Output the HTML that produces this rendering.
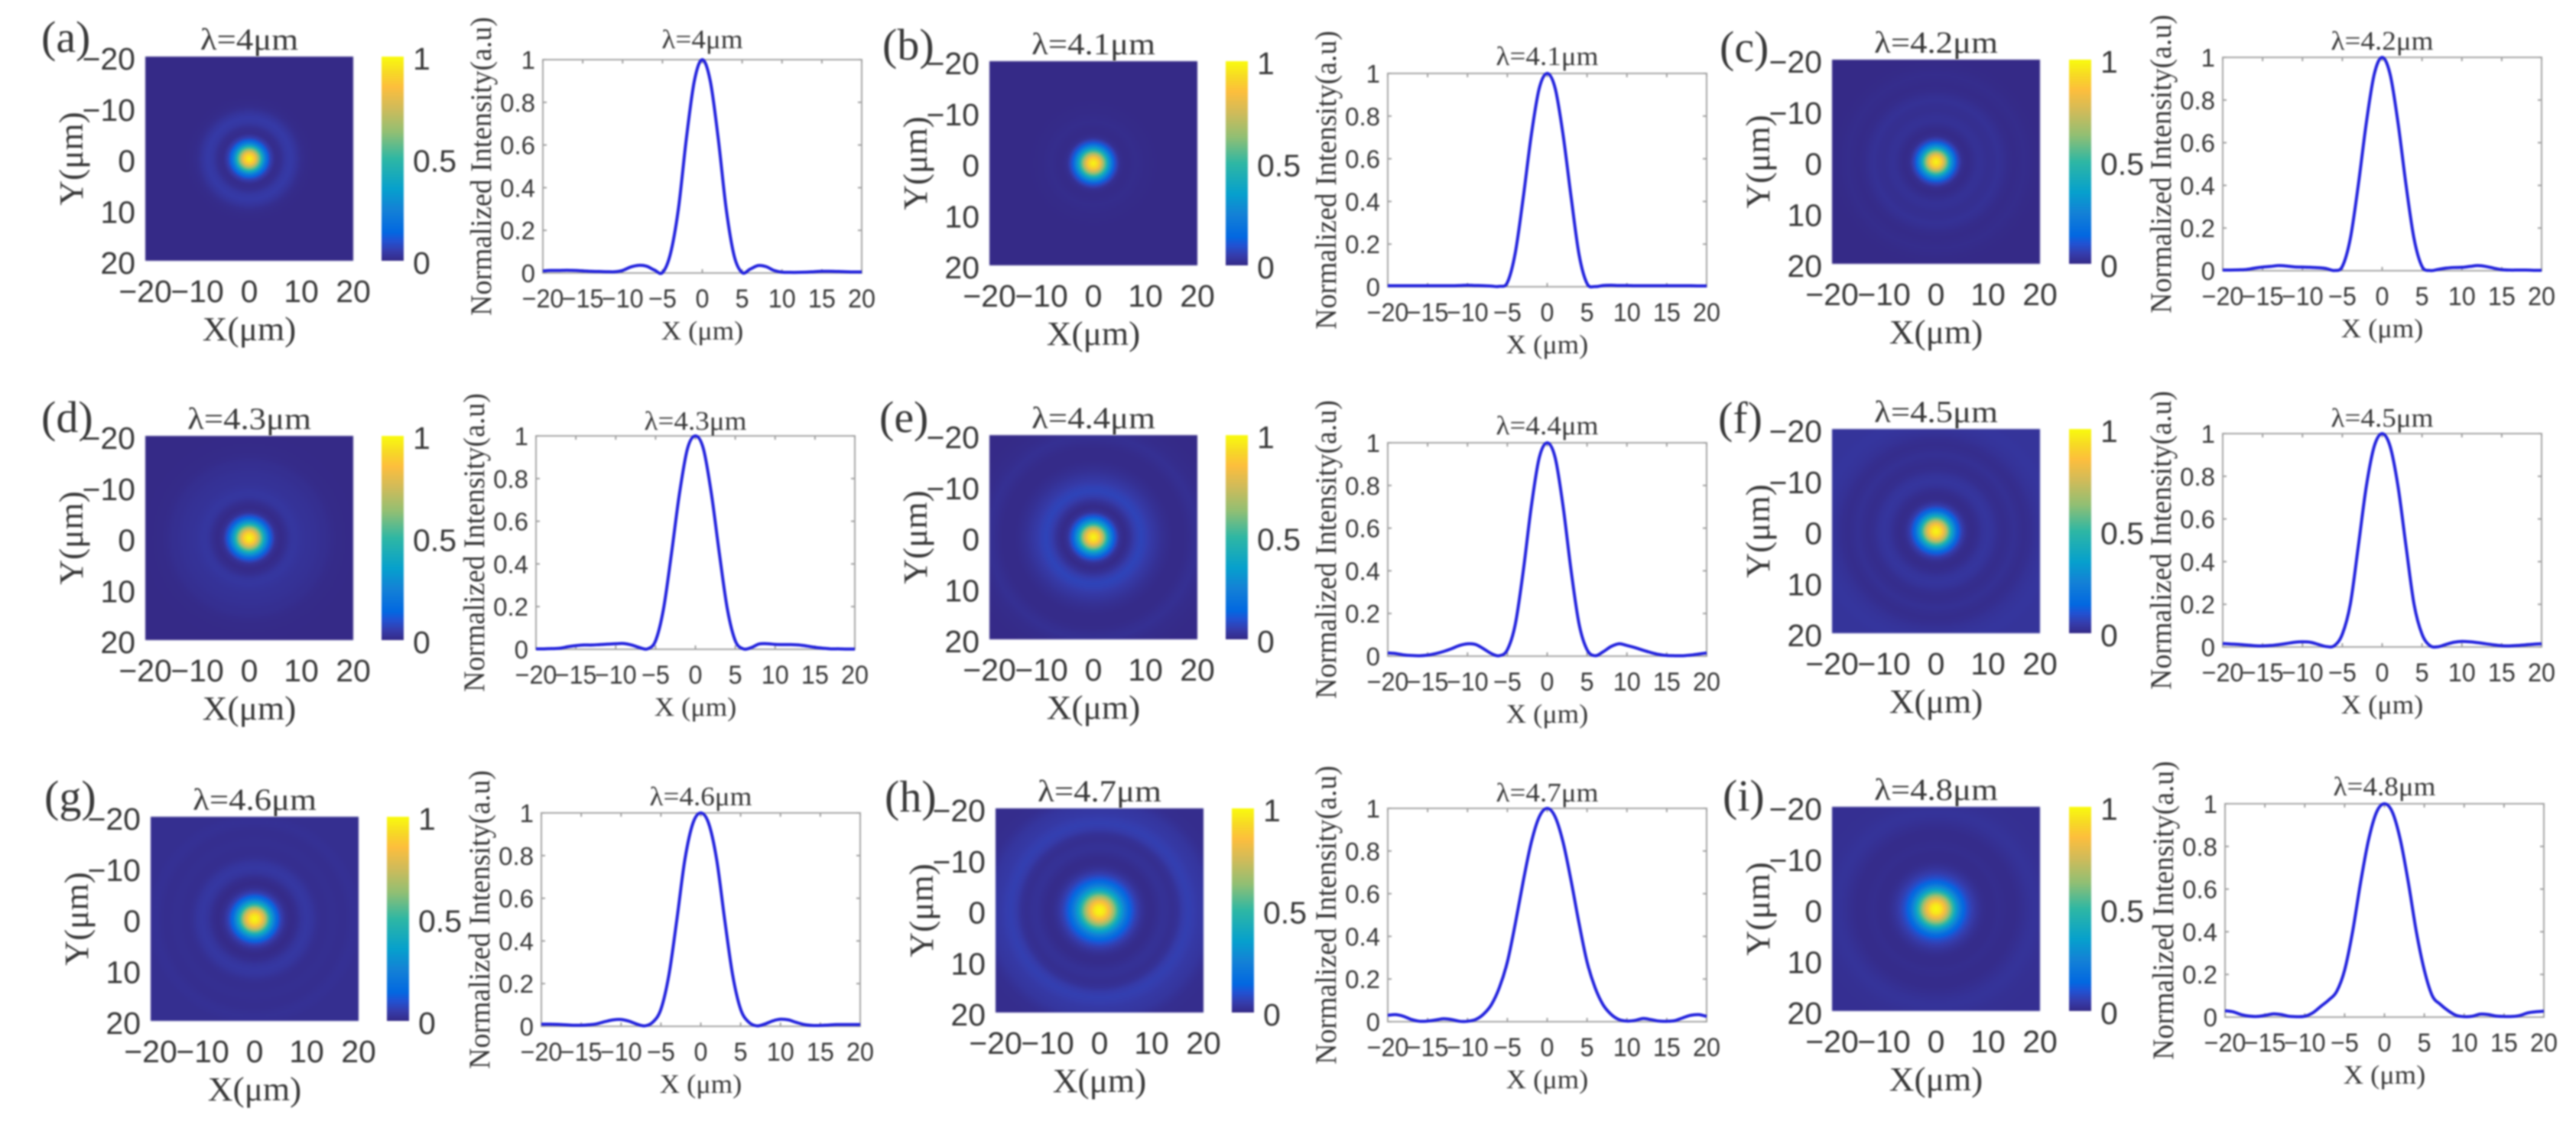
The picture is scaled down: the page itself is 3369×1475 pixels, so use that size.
<!DOCTYPE html>
<html lang="en">
<head>
<meta charset="utf-8">
<title>Beam intensity profiles</title>
<style>
html,body{margin:0;padding:0;background:#fff;}
#page{position:relative;width:3369px;height:1475px;overflow:hidden;background:#fff;}
#page canvas{position:absolute;filter:blur(1.2px);}
#overlay{position:absolute;left:0;top:0;filter:blur(1.1px);}
text{fill:#383838;}
.serif{font-family:"Liberation Serif","Noto Serif CJK SC",serif;}
.sans{font-family:"Liberation Sans","Noto Sans CJK SC",sans-serif;}
</style>
</head>
<body>
<div id="page">
<svg id="overlay" width="3369" height="1475" xmlns="http://www.w3.org/2000/svg">
<defs><linearGradient id="parulaGrad" x1="0" y1="1" x2="0" y2="0"></linearGradient></defs>
</svg>
</div>
<script>
// ---- data ----
const wavelengths = ['4','4.1','4.2','4.3','4.4','4.5','4.6','4.7','4.8'];
const panelLetters = ['(a)','(b)','(c)','(d)','(e)','(f)','(g)','(h)','(i)'];
const xPositions = [-20,-19,-18,-17,-16,-15,-14,-13,-12,-11,-10,-9,-8,-7,-6,-5,-4,-3,-2,-1,0,1,2,3,4,5,6,7,8,9,10,11,12,13,14,15,16,17,18,19,20];
const heatTicks = [-20,-10,0,10,20];
const colorbarTicks = [0,0.5,1];
const lineXTicks = [-20,-15,-10,-5,0,5,10,15,20];
const lineYTicks = [0,0.2,0.4,0.6,0.8,1];

const profileA = [.01,.012,.012,.013,.012,.01,.008,.007,.006,.006,.012,.028,.036,.032,.014,.002,.09,.3,.63,.9,1,.9,.63,.3,.08,.002,.018,.035,.03,.012,.004,.003,.003,.004,.006,.008,.008,.007,.006,.005,.005];
const profileB = [.005,.005,.005,.005,.005,.005,.005,.005,.005,.006,.007,.006,.005,.003,.002,.02,.16,.42,.71,.93,1,.93,.71,.42,.15,.015,.001,.006,.007,.006,.006,.005,.005,.005,.005,.005,.005,.005,.005,.004,.004];
const profileC = [.003,.003,.004,.006,.012,.017,.02,.024,.022,.018,.017,.016,.014,.01,.001,.02,.15,.4,.69,.92,1,.92,.69,.4,.15,.02,.001,.006,.012,.015,.016,.02,.024,.02,.012,.005,.003,.003,.003,.002,.002];
const profileD = [.002,.002,.003,.005,.012,.017,.02,.02,.022,.024,.026,.027,.02,.008,.002,.04,.19,.45,.73,.94,1,.94,.73,.45,.19,.04,.002,.008,.025,.026,.023,.022,.022,.02,.015,.009,.005,.002,.002,.001,.001];
const profileE = [.015,.012,.006,.003,.002,.005,.012,.022,.035,.05,.058,.055,.035,.012,.002,.03,.15,.4,.7,.93,1,.93,.7,.4,.15,.03,.002,.02,.045,.058,.05,.04,.028,.017,.008,.003,.002,.002,.005,.01,.015];
const profileF = [.016,.014,.012,.009,.006,.005,.007,.011,.016,.022,.024,.022,.012,.002,.006,.06,.2,.47,.75,.94,1,.94,.75,.47,.2,.06,.006,.001,.012,.022,.026,.024,.02,.015,.01,.006,.005,.007,.01,.013,.015];
const profileG = [.01,.01,.009,.007,.005,.005,.007,.012,.022,.03,.032,.024,.01,.002,.02,.08,.24,.5,.78,.95,1,.95,.78,.5,.24,.08,.02,.002,.01,.025,.033,.03,.018,.008,.004,.004,.006,.008,.008,.008,.008];
const profileH = [.03,.033,.025,.01,.002,.003,.008,.014,.01,.002,.002,.01,.035,.08,.16,.28,.46,.66,.84,.96,1,.96,.84,.66,.46,.28,.16,.08,.035,.01,.003,.006,.015,.01,.003,.002,.005,.018,.03,.033,.025];
const profileI = [.03,.025,.012,.005,.003,.008,.015,.012,.004,.002,.004,.02,.05,.08,.12,.22,.4,.63,.83,.96,1,.96,.83,.63,.4,.22,.1,.06,.03,.008,.002,.004,.014,.012,.005,.003,.003,.008,.02,.025,.028];
const lineProfiles = [profileA,profileB,profileC,profileD,profileE,profileF,profileG,profileH,profileI];

// radial intensity of each beam map, sampled at r = 0,1,2,...,28 um
const radialA = [1,.88,.58,.24,.06,.006,.012,.035,.042,.028,.01,.003,.001,0,0,0,0,0,0,0,0,0,0,0,0,0,0,0,0];
const radialB = [1,.9,.64,.34,.11,.015,.002,.004,.008,.006,.003,.002,.001,0,0,0,0,0,0,0,0,0,0,0,0,0,0,0,0];
const radialC = [1,.9,.62,.3,.09,.012,.002,.01,.02,.018,.012,.014,.02,.014,.006,.003,.005,.008,.005,.002,.001,0,0,0,0,0,0,0,0];
const radialD = [1,.91,.66,.36,.13,.02,.002,.012,.03,.032,.026,.022,.02,.018,.014,.012,.006,.003,.002,.001,.001,0,0,0,0,0,0,0,0];
const radialE = [1,.91,.66,.34,.12,.02,.002,.02,.05,.066,.058,.042,.03,.018,.01,.004,.002,.002,.006,.012,.016,.01,.006,.004,.002,.001,.001,0,0];
const radialF = [1,.92,.7,.4,.16,.05,.01,.004,.012,.025,.03,.024,.012,.008,.012,.018,.012,.008,.012,.02,.025,.028,.03,.028,.025,.025,.025,.025,.025];
const radialG = [1,.93,.72,.42,.19,.06,.015,.002,.01,.028,.036,.03,.016,.01,.012,.014,.012,.01,.014,.018,.016,.012,.012,.012,.012,.012,.012,.012,.012];
const radialH = [1,.95,.8,.6,.38,.22,.12,.06,.025,.008,.005,.012,.02,.018,.012,.02,.045,.055,.05,.04,.035,.03,.02,.012,.01,.008,.008,.008,.008];
const radialI = [1,.95,.78,.56,.33,.17,.09,.05,.025,.01,.005,.006,.01,.008,.005,.005,.01,.016,.022,.024,.022,.018,.016,.015,.014,.014,.014,.014,.014];
const heatRadials = [radialA,radialB,radialC,radialD,radialE,radialF,radialG,radialH,radialI];

// ---- colormap ----
const cmapStops = [0,.05,.1,.14,.25,.35,.5,.63,.75,.85,.92,1];
const cmapColors = [[53,42,135],[53,61,173],[32,83,212],[2,104,225],[20,129,214],[6,160,205],[46,183,164],[146,191,115],[209,187,89],[253,190,61],[247,216,38],[249,251,14]];

// ---- layout (panel placement only) ----
const layout = [
 {lx:54,  ly:68,  hx:190, hy:74,  cx:499, px:710, py:78,  tt:15},
 {lx:1154,ly:78,  hx:1294,hy:80,  cx:1603,px:1815,py:96,  tt:11},
 {lx:2249,ly:81,  hx:2396,hy:78,  cx:2706,px:2907,py:75,  tt:10},
 {lx:54,  ly:565, hx:190, hy:570, cx:499, px:701, py:570, tt:8},
 {lx:1150,ly:565, hx:1294,hy:569, cx:1603,px:1815,py:579, tt:11},
 {lx:2247,ly:566, hx:2396,hy:561, cx:2706,px:2907,py:567, tt:9},
 {lx:58,  ly:1061,hx:197, hy:1068,cx:506, px:708, py:1063,tt:10},
 {lx:1157,ly:1061,hx:1302,hy:1057,cx:1611,px:1815,py:1057,tt:9},
 {lx:2253,ly:1060,hx:2396,hy:1055,cx:2706,px:2910,py:1051,tt:11}
];
const HW=272, HH=267, CW=29, PW=417, PH=279;

const svg = document.getElementById('overlay');
const page = document.getElementById('page');
const NS = 'http://www.w3.org/2000/svg';

function colorOf(v){
  v = Math.max(0,Math.min(1,v));
  for(let i=1;i<cmapStops.length;i++){
    if(v<=cmapStops[i]){
      const t=(v-cmapStops[i-1])/(cmapStops[i]-cmapStops[i-1]);
      const a=cmapColors[i-1], b=cmapColors[i];
      return [a[0]+(b[0]-a[0])*t,a[1]+(b[1]-a[1])*t,a[2]+(b[2]-a[2])*t];
    }
  }
  return cmapColors[cmapColors.length-1];
}
const grad = svg.querySelector('#parulaGrad');
cmapStops.forEach((s,i)=>{
  const st=document.createElementNS(NS,'stop');
  st.setAttribute('offset',s);
  const c=cmapColors[i];
  st.setAttribute('stop-color','rgb('+c[0]+','+c[1]+','+c[2]+')');
  grad.appendChild(st);
});

function fmt(v){ return String(v).replace('-','\u2212'); }

function addText(str,x,y,size,cls,anchor,sx,rot){
  const t=document.createElementNS(NS,'text');
  t.textContent=str;
  t.setAttribute('class',cls);
  t.setAttribute('font-size',size);
  t.setAttribute('text-anchor',anchor);
  let tf='translate('+x+' '+y+')';
  if(rot) tf+=' rotate('+rot+')';
  if(sx && sx!==1) tf+=' scale('+sx+' 1)';
  t.setAttribute('transform',tf);
  svg.appendChild(t);
  return t;
}
function addLine(x1,y1,x2,y2,col,w){
  const l=document.createElementNS(NS,'line');
  l.setAttribute('x1',x1);l.setAttribute('y1',y1);l.setAttribute('x2',x2);l.setAttribute('y2',y2);
  l.setAttribute('stroke',col);l.setAttribute('stroke-width',w);
  svg.appendChild(l);
  return l;
}
function radialAt(rad,r){
  if(r>=rad.length-1) return rad[rad.length-1];
  const i=Math.floor(r), f=r-i;
  return rad[i]*(1-f)+rad[i+1]*f;
}
function smoothPath(xs,ys){
  let d='M'+xs[0].toFixed(2)+' '+ys[0].toFixed(2);
  for(let i=0;i<xs.length-1;i++){
    const i0=Math.max(0,i-1), i3=Math.min(xs.length-1,i+2);
    const c1x=xs[i]+(xs[i+1]-xs[i0])/6, c1y=ys[i]+(ys[i+1]-ys[i0])/6;
    const c2x=xs[i+1]-(xs[i3]-xs[i])/6, c2y=ys[i+1]-(ys[i3]-ys[i])/6;
    d+=' C'+c1x.toFixed(2)+' '+c1y.toFixed(2)+' '+c2x.toFixed(2)+' '+c2y.toFixed(2)+' '+xs[i+1].toFixed(2)+' '+ys[i+1].toFixed(2);
  }
  return d;
}

layout.forEach((p,i)=>{
  const title='\u03BB='+wavelengths[i]+'\u03BCm';
  const rad=heatRadials[i], prof=lineProfiles[i];

  // panel letter
  const letter=addText(panelLetters[i],p.lx,p.ly,58,'serif','start',1);
  
  

  // heatmap axes functions
  const hxScale=v=>p.hx+(v+20)/40*HW;
  const hyScale=v=>p.hy+(v+20)/40*HH;

  // heatmap cells
  const N=136;
  const cv=document.createElement('canvas');
  
  
  cv.width=N; cv.height=N;
  cv.style.left=hxScale(-20)+'px';
  cv.style.top=hyScale(-20)+'px';
  cv.style.width=(hxScale(20)-hxScale(-20))+'px';
  cv.style.height=(hyScale(20)-hyScale(-20))+'px';
  const ctx=cv.getContext('2d');
  const img=ctx.createImageData(N,N);
  for(let yi=0;yi<N;yi++){
    for(let xi=0;xi<N;xi++){
      const dx=(xi+.5)/N*40-20, dy=(yi+.5)/N*40-20;
      const c=colorOf(radialAt(rad,Math.sqrt(dx*dx+dy*dy)));
      const k=(yi*N+xi)*4;
      img.data[k]=c[0];img.data[k+1]=c[1];img.data[k+2]=c[2];img.data[k+3]=255;
    }
  }
  ctx.putImageData(img,0,0);
  page.insertBefore(cv,svg);

  // heatmap title
  const ht=addText(title,hxScale(0),p.hy-9,40,'serif','middle',1.12);
  
  

  // heatmap ticks
  heatTicks.forEach(v=>{
    const tx=addText(fmt(v),hxScale(v),p.hy+HH+54,41,'sans','middle',1);
    
    
    const ty=addText(fmt(v),p.hx-13,hyScale(v)+17,41,'sans','end',1);
    
    
  });
  const xl=addText('X(\u03BCm)',hxScale(0),p.hy+HH+104,44,'serif','middle',1.03);
  
  
  const yl=addText('Y(\u03BCm)',p.hx-82,hyScale(0),44,'serif','middle',1.03,-90);
  
  

  // colorbar
  const cb=document.createElementNS(NS,'rect');
  
  
  cb.setAttribute('x',p.cx);cb.setAttribute('y',p.hy);
  cb.setAttribute('width',CW);cb.setAttribute('height',HH);
  cb.setAttribute('fill','url(#parulaGrad)');
  svg.appendChild(cb);
  colorbarTicks.forEach(v=>{
    const yy=p.hy+HH-v*HH;
    const t=addText(String(v),p.cx+CW+12,yy+17,41,'sans','start',1);
    
    
  });

  // line plot axis functions
  const lx=v=>p.px+(v+20)/40*PW;
  const ly=v=>p.py+PH-v*PH;

  const box=document.createElementNS(NS,'rect');
  
  
  box.setAttribute('x',p.px);box.setAttribute('y',p.py);
  box.setAttribute('width',PW);box.setAttribute('height',PH);
  box.setAttribute('fill','none');box.setAttribute('stroke','#a8a8a8');box.setAttribute('stroke-width',2);
  svg.appendChild(box);

  lineXTicks.forEach(v=>{
    const a=addLine(lx(v),ly(0),lx(v),ly(0)-5,'#a0a0a0',2);
    
    
    const b=addLine(lx(v),ly(1),lx(v),ly(1)+5,'#a0a0a0',2);
    
    
    const t=addText(fmt(v),lx(v),p.py+PH+45,34,'sans','middle',.95);
    
    
  });
  lineYTicks.forEach(v=>{
    const a=addLine(p.px,ly(v),p.px+5,ly(v),'#a0a0a0',2);
    
    
    const b=addLine(p.px+PW,ly(v),p.px+PW-5,ly(v),'#a0a0a0',2);
    
    
    const t=addText(String(v),p.px-10,ly(v)+12,33,'sans','end',1);
    
    
  });

  const lt=addText(title,lx(0),p.py-p.tt,35,'serif','middle',1.06);
  
  
  const lxl=addText('X (\u03BCm)',lx(0),p.py+PH+87,35,'serif','middle',1.04);
  
  
  const lyl=addText('Normalized Intensity(a.u)',p.px-68,p.py+PH/2,39,'serif','middle',.97,-90);
  
  

  // profile curve
  const path=document.createElementNS(NS,'path');
  
  
  path.setAttribute('d',smoothPath(xPositions.map(lx),prof.map(ly)));
  path.setAttribute('fill','none');
  path.setAttribute('stroke','#2222dd');
  path.setAttribute('stroke-width',4);
  path.setAttribute('stroke-linejoin','round');
  svg.appendChild(path);
});
</script>
</body>
</html>
